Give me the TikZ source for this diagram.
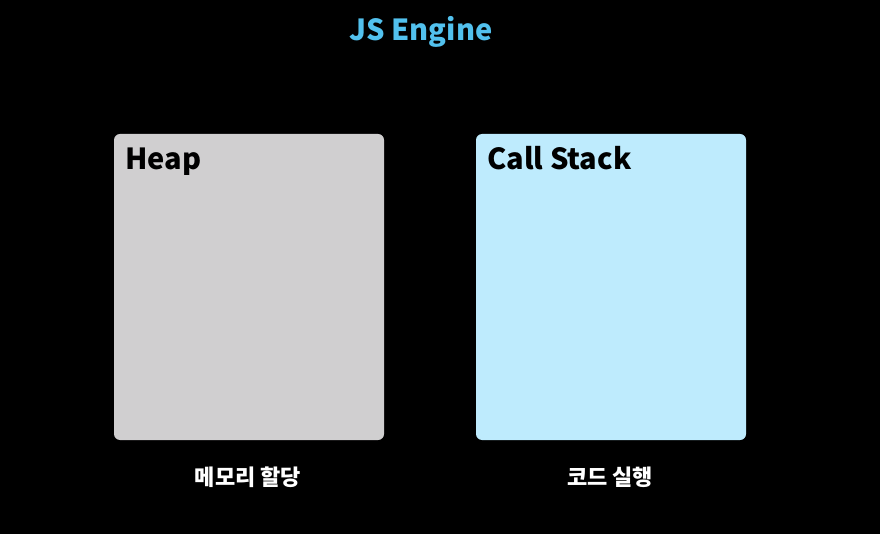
\documentclass[tikz,border=0pt]{standalone}
\usepackage{fontspec}
\setmainfont{Noto Sans CJK KR}
\definecolor{titleblue}{HTML}{52C1EE}
\definecolor{heapgray}{HTML}{D0CFD0}
\definecolor{stackblue}{HTML}{BEEBFD}
\tikzset{
  paneltitle/.style={anchor=base west, font=\fontsize{29}{34}\selectfont\bfseries, text=black, inner sep=0pt},
  caption/.style={font=\fontsize{22}{26}\selectfont\bfseries, text=white, inner sep=0pt},
}
\begin{document}
\begin{tikzpicture}[x=1pt,y=-1pt]
\fill[black] (0,0) rectangle (880,534);
\useasboundingbox (0,0) rectangle (880,534);
\node[anchor=base, font=\fontsize{29}{34}\selectfont\bfseries, text=titleblue, inner sep=0pt] (title) at (421,41) {JS Engine};
\fill[heapgray, rounded corners=6pt] (114,134) rectangle (384,440);
\node[inner sep=0pt, minimum width=270pt, minimum height=306pt] (heap) at (249,287) {};
\fill[stackblue, rounded corners=6pt] (476,134) rectangle (746,440);
\node[inner sep=0pt, minimum width=270pt, minimum height=306pt] (stack) at (611,287) {};
\node[paneltitle] (heapt) at (125,169.5) {Heap};
\node[paneltitle] (stackt) at (487,169.5) {Call Stack};
\node[caption] (heapc) at (248,477) {메모리 할당};
\node[caption] (stackc) at (610,477) {코드 실행};
\end{tikzpicture}
\end{document}
